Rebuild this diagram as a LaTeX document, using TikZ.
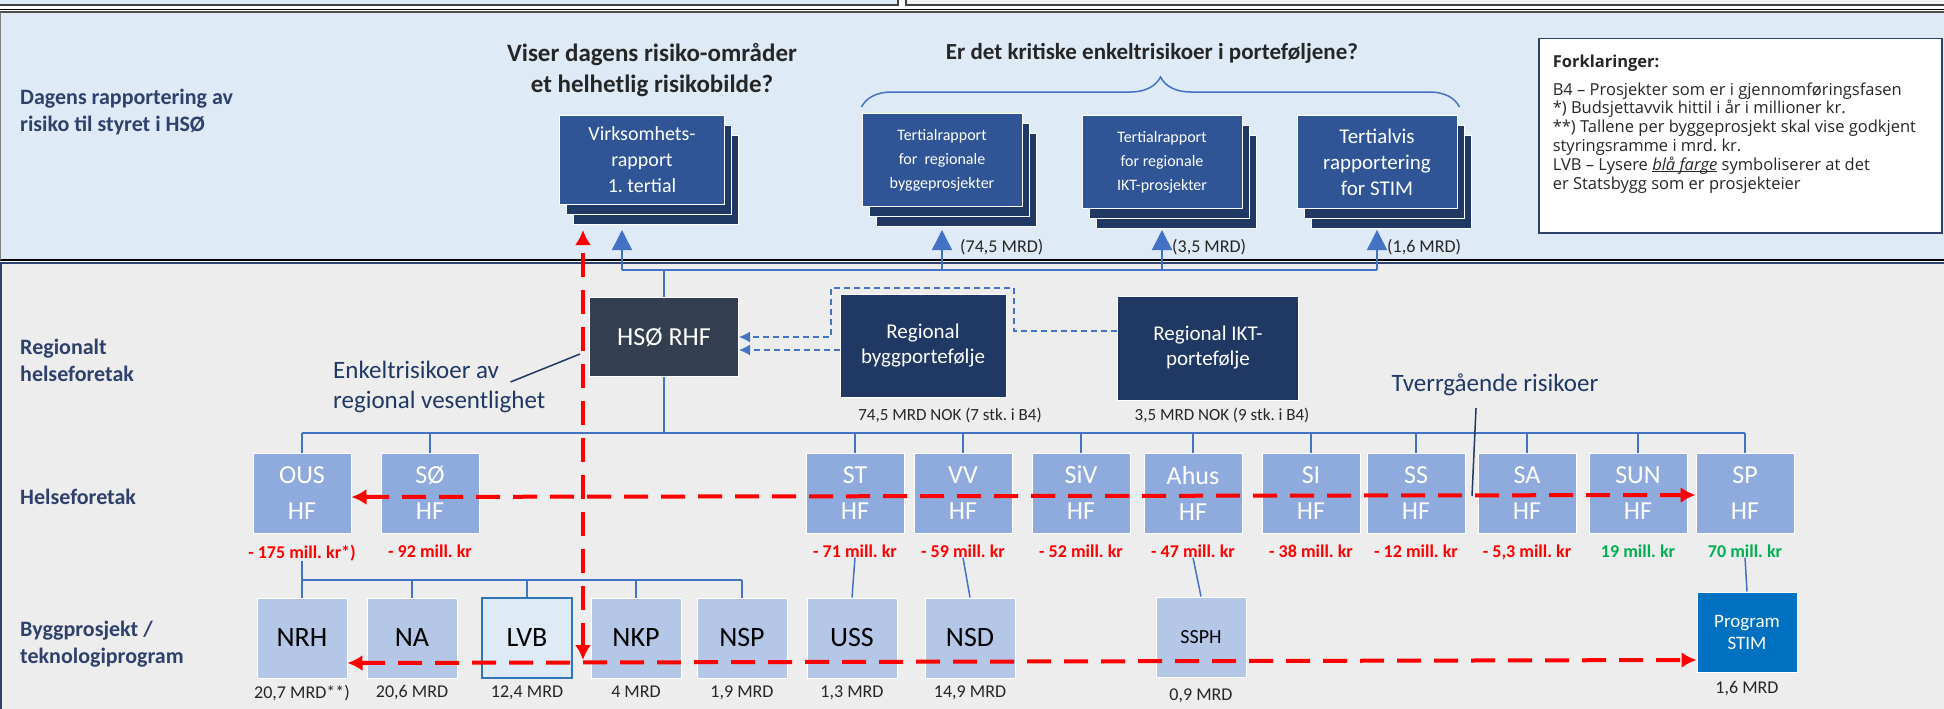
\documentclass[tikz,border=0pt]{standalone}
\usepackage{fontspec}
\setmainfont{Carlito}
\newfontfamily\legendfont{Open Sans}
\usetikzlibrary{positioning,arrows.meta,shadows,decorations.pathreplacing}

\definecolor{bandblue}{RGB}{222,234,246}
\definecolor{bandgray}{RGB}{237,237,237}
\definecolor{stripgray}{RGB}{242,242,242}
\definecolor{headblue}{RGB}{46,64,108}
\definecolor{repfront}{RGB}{47,85,151}
\definecolor{repback}{RGB}{32,56,100}
\definecolor{rhfgray}{RGB}{51,63,80}
\definecolor{portnavy}{RGB}{32,56,100}
\definecolor{hfblue}{RGB}{143,170,220}
\definecolor{projblue}{RGB}{180,199,231}
\definecolor{lvbfill}{RGB}{222,235,247}
\definecolor{lvbline}{RGB}{46,117,182}
\definecolor{stimblue}{RGB}{0,112,192}
\definecolor{linkblue}{RGB}{68,114,196}
\definecolor{riskred}{RGB}{255,0,0}
\definecolor{plusgreen}{RGB}{0,176,80}
\definecolor{textgray}{RGB}{38,38,38}
\definecolor{notenavy}{RGB}{31,56,100}

\newcommand{\fsz}[2]{\fontsize{#1}{#2}\selectfont}

\tikzset{
  headlab/.style={font=\bfseries\fsz{22}{27}, text=headblue, align=left, anchor=west, inner sep=0pt},
  question/.style={font=\bfseries\fsz{23}{31}, text=textgray, align=center, inner sep=0pt},
  report/.style={fill=repfront, draw=white, line width=1pt, text=white, align=center, inner sep=2pt,
    minimum width=160pt, minimum height=93pt,
    double copy shadow={shadow xshift=7pt, shadow yshift=-10pt, fill=repback, draw=white}},
  port/.style={fill=portnavy, draw=white, line width=1pt, text=white, align=center,
    minimum width=166pt, minimum height=103pt, font=\fsz{21}{25}},
  hf/.style={fill=hfblue, draw=white, line width=1pt, text=white, align=center,
    minimum width=98pt, minimum height=80pt, inner sep=0pt, font=\fsz{26}{36}},
  proj/.style={fill=projblue, draw=white, line width=1pt, text=black,
    minimum width=90pt, minimum height=80pt, inner sep=0pt, font=\fsz{28}{32}},
  budget/.style={font=\bfseries\fsz{18}{20}, inner sep=0pt},
  mrd/.style={font=\fsz{18}{20}, text=textgray, inner sep=0pt},
  link/.style={draw=linkblue, line width=1.5pt},
  uparrow/.style={link, -{Triangle[length=20pt,width=20pt]}},
  feed/.style={draw=linkblue, line width=1.5pt, dash pattern=on 6pt off 4pt, -{Latex[length=11pt,width=11pt]}},
  risk/.style={draw=riskred, line width=4pt, dash pattern=on 24pt off 13pt,
    {Latex[length=15pt,width=16pt]}-{Latex[length=15pt,width=16pt]}},
  pointer/.style={draw=notenavy, line width=1.5pt},
  note/.style={font=\fsz{25}{30}, text=notenavy, align=left, inner sep=0pt}
}

\begin{document}
\frenchspacing
\begin{tikzpicture}[x=1pt, y=-1pt]
\useasboundingbox (0,0) rectangle (1944,709);

% bands
\fill[bandblue] (0,0) rectangle (898,5);
\draw[line width=1.5pt, black!75] (0,5) -- (898,5) -- (898,0);
\fill[stripgray] (906,0) rectangle (1944,5);
\draw[line width=1.5pt, black!75] (906,0) -- (906,5) -- (1944,5);
\fill[bandblue] (0,11) rectangle (1944,261);
\draw[line width=1.2pt] (0,9.5) -- (1944,9.5);
\draw[line width=1.2pt, black!70] (0,12) -- (1944,12);
\fill[bandgray] (0,262) rectangle (1944,709);
\draw[line width=1.5pt] (0,260) -- (1944,260);
\draw[line width=1.2pt, headblue] (0,263) -- (1944,263);
\draw[line width=1pt, gray] (0.5,12) -- (0.5,260);
\draw[line width=2pt, headblue] (1,263) -- (1,709);

% row titles
\node[headlab] (toptitle) at (20,112) {Dagens rapportering av\\risiko til styret i HSØ};
\node[headlab] (rhftitle) at (20,360) {Regionalt\\helseforetak};
\node[headlab] (hftitle) at (20,497) {Helseforetak};
\node[headlab] (projtitle) at (20,644) {Byggprosjekt /\\teknologiprogram};

% questions
\node[question, font=\bfseries\fsz{25}{31}] (q1) at (652,70) {Viser dagens risiko-områder\\et helhetlig risikobilde?};
\node[question] (q2) at (1152,53) {Er det kritiske enkeltrisikoer i porteføljene?};

% reports to the board
\node[report, minimum width=165pt, minimum height=89pt, font=\fsz{20}{26}] (virk) at (642,160) {Virksomhets-\\rapport\\1. tertial};
\node[report, font=\fsz{16}{24}] (rapbygg) at (942,160) {Tertialrapport\\for\ \ regionale\\byggeprosjekter};
\node[report, font=\fsz{16}{24}] (rapikt) at (1162,162) {Tertialrapport\\for regionale\\IKT-prosjekter};
\node[report, font=\fsz{21}{26}] (rapstim) at (1377,162) {Tertialvis\\rapportering\\for STIM};

\draw[link, decorate, decoration={brace, amplitude=30pt}]
  ([yshift=6pt]rapbygg.north west) -- ([xshift=2pt,yshift=8pt]rapstim.north east);

% legend
\node[draw=headblue, line width=1.5pt, fill=white, anchor=north west, inner xsep=14pt, inner ysep=16pt,
  font=\legendfont\fsz{16.5}{18.8}, text=textgray] (legend) at (1538,38)
  {\parbox[t][162pt][t]{375pt}{\raggedright
   \textbf{Forklaringer:}\\[9pt]
   B4 – Prosjekter som er i gjennomføringsfasen\\
   {}*) Budsjettavvik hittil i år i millioner kr.\\
   {}**) Tallene per byggeprosjekt skal vise godkjent\\
   styringsramme i mrd. kr.\\
   LVB – Lysere \underline{\smash{\textit{blå farge}}} symboliserer at det\\
   er Statsbygg som er prosjekteier}};

% regional level
\node[fill=rhfgray, draw=white, line width=1pt, text=white, minimum width=149pt, minimum height=79pt,
  font=\fsz{26}{30}] (rhf) at (664,337) {HSØ RHF};
\node[port] (regbygg) at (923,346) {Regional\\byggportefølje};
\node[port, minimum width=181pt, minimum height=104pt] (regikt) at (1208,348) {Regional IKT-\\portefølje};
\node[mrd, font=\fsz{17}{20}] (byggsum) at (950,415) {74,5 MRD NOK (7 stk. i B4)};
\node[mrd, font=\fsz{17}{20}] (iktsum) at (1222,415) {3,5 MRD NOK (9 stk. i B4)};

% reporting lines up to the board
\coordinate (topbus) at (0,270);
\coordinate (virkfoot) at ([xshift=-20pt]virk.south);
\draw[link] (virkfoot |- topbus) -- (rapstim.south |- topbus);
\draw[uparrow] (virkfoot |- topbus) -- ++(0,-40);
\foreach \n in {rapbygg,rapikt,rapstim}
  \draw[uparrow] (\n.south |- topbus) -- ++(0,-40);
\draw[link] (rhf.north) -- (rhf.north |- topbus);
\node[mrd, anchor=west] (byggmrd) at (960,247) {(74,5 MRD)};
\node[mrd, anchor=west] (iktmrd) at (1172,247) {(3,5 MRD)};
\node[mrd, anchor=west] (stimmrd) at (1387,247) {(1,6 MRD)};

% portfolios feeding HSØ RHF
\coordinate (feeda) at ([yshift=17pt]regikt.west);
\coordinate (feedb) at ([yshift=-4pt]regbygg.west);
\draw[feed] (feeda) -- ++(-103,0) -- ++(0,-43) -- ++(-183,0) |- (rhf.east);
\draw[feed] (feedb) -- (rhf.east |- feedb);

% health trusts
\foreach \x/\n/\t/\b/\c in {302/ous/OUS/{- 175 mill. kr*)}/riskred, 430/so/SØ/{- 92 mill. kr}/riskred,
    855/st/ST/{- 71 mill. kr}/riskred, 963/vv/VV/{- 59 mill. kr}/riskred, 1081/siv/SiV/{- 52 mill. kr}/riskred,
    1193/ahus/Ahus/{- 47 mill. kr}/riskred, 1311/si/SI/{- 38 mill. kr}/riskred, 1416/ss/SS/{- 12 mill. kr}/riskred,
    1527/sa/SA/{- 5,3 mill. kr}/riskred, 1638/sun/SUN/{19 mill. kr}/plusgreen, 1745/sp/SP/{70 mill. kr}/plusgreen}{
  \node[hf] (\n) at (\x,493) {\t\\HF};
  \node[budget, text=\c, below=11pt of \n] (\n-v) {\b};
}
\coordinate (hfbus) at (0,433);
\draw[link] (rhf.south) -- (rhf.south |- hfbus);
\draw[link] (ous.north |- hfbus) -- (sp.north |- hfbus);
\foreach \n in {ous,so,st,vv,siv,ahus,si,ss,sa,sun,sp}
  \draw[link] (\n.north |- hfbus) -- (\n.north);

% projects
\foreach \x/\n/\t/\m in {302/nrh/NRH/{20,7 MRD**)}, 412/na/NA/{20,6 MRD}, 636/nkp/NKP/{4 MRD},
    742/nsp/NSP/{1,9 MRD}, 852/uss/USS/{1,3 MRD}, 970/nsd/NSD/{14,9 MRD}}{
  \node[proj] (\n) at (\x,638) {\t};
  \node[mrd, below=7pt of \n] (\n-m) {\m};
}
\node[proj, fill=lvbfill, draw=lvbline, line width=1.5pt] (lvb) at (527,638) {LVB};
\node[mrd, below=7pt of lvb] (lvb-m) {12,4 MRD};
\node[proj, font=\fsz{20}{24}] (ssph) at (1201,637) {SSPH};
\node[mrd, below=11pt of ssph] (ssph-m) {0,9 MRD};
\node[proj, fill=stimblue, text=white, minimum width=100pt, align=center, font=\fsz{19}{22}] (stim) at (1747,632) {Program\\STIM};
\node[mrd, below=9pt of stim] (stim-m) {1,6 MRD};

\coordinate (projbus) at (0,580);
\draw[link] (ous |- ous-v.south) -- (ous |- projbus);
\draw[link] (nrh.north |- projbus) -- (nsp.north |- projbus);
\foreach \n in {nrh,na,lvb,nkp,nsp}
  \draw[link] (\n.north |- projbus) -- (\n.north);
\draw[link] (st |- st-v.south) -- (uss.north);
\draw[link] (vv |- vv-v.south) -- (nsd.north);
\draw[link] (ahus |- ahus-v.south) -- (ssph.north);
\draw[link] (sp |- sp-v.south) -- (stim.north);

% risks across the portfolio
\coordinate (vtop) at (583,230);
\coordinate (vbot) at (583,660);
\draw[risk] ([yshift=-4pt]ous.east) -- ([yshift=-2pt]sp.west);
\draw[risk] ([yshift=-25pt]nrh.east) -- ([yshift=-28pt]stim.west);
\draw[risk] (vbot) -- (vtop);

\node[note, anchor=west] (enkel) at (333,387) {Enkeltrisikoer av\\regional vesentlighet};
\coordinate (enkelhit) at (580,354);
\draw[pointer] ([xshift=-35pt,yshift=5pt]enkel.east) -- (enkelhit);
\node[note] (tverr) at (1495,385) {Tverrgående risikoer};
\coordinate (tverrhit) at (1472,496);
\draw[pointer] ([xshift=-19pt,yshift=-12pt]tverr.south) -- (tverrhit);
\end{tikzpicture}
\end{document}
